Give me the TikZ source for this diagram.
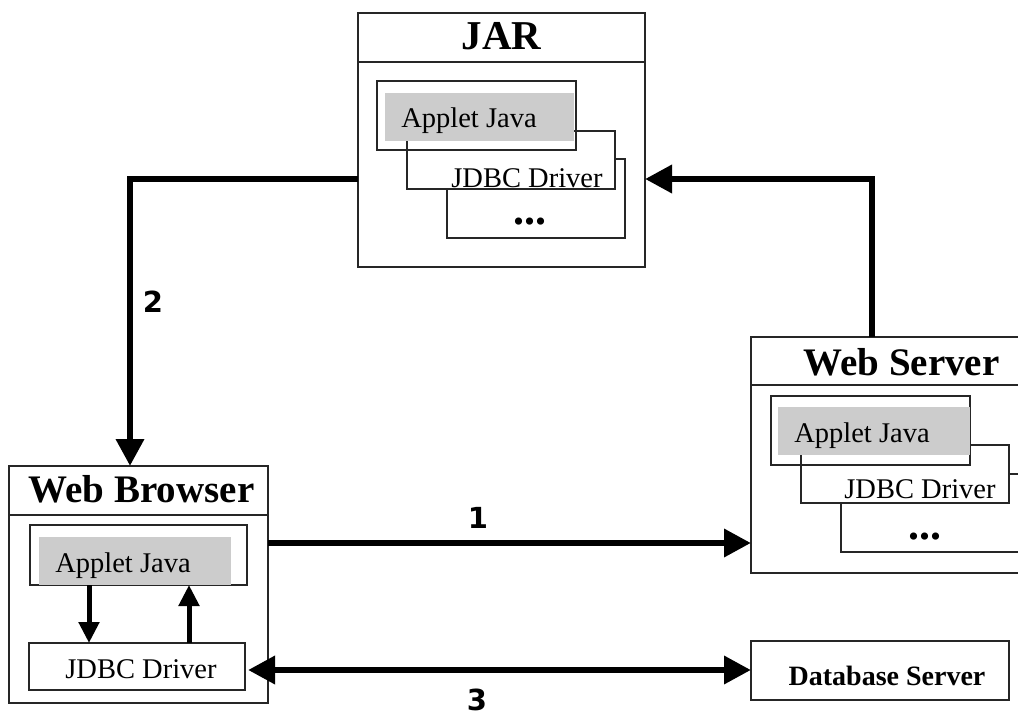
\documentclass[tikz,border=0pt]{standalone}
\usepackage{fontspec}
\setmainfont{Liberation Serif}
\newfontfamily\numfont{DejaVu Sans}
\usetikzlibrary{arrows.meta}

\begin{document}
\begin{tikzpicture}[x=1pt,y=-1pt,
  box/.style={draw=black!85, line width=1.4pt, fill=white, inner sep=0pt, outer sep=0pt},
  frame/.style={draw=black!85, line width=1.4pt, inner sep=0pt, outer sep=0pt},
  shade/.style={fill=black!20, draw=none, inner sep=0pt, outer sep=0pt},
  divider/.style={draw=black!85, line width=1.4pt},
  title/.style={font=\fontsize{39}{42}\selectfont\bfseries, inner sep=0pt, anchor=base},
  item/.style={font=\fontsize{28.5}{30}\selectfont, inner sep=0pt, anchor=base},
  dots/.style={font=\fontsize{44}{46}\selectfont\bfseries, inner sep=0pt, anchor=base},
  num/.style={font=\numfont\fontsize{29}{31}\selectfont\bfseries, inner sep=0pt, anchor=base},
  flow/.style={line width=6.5pt, -{Triangle[length=27pt,width=27pt]}},
  twoway/.style={line width=6.5pt, {Triangle[length=27pt,width=27pt]}-{Triangle[length=27pt,width=27pt]}},
  call/.style={line width=5pt, -{Triangle[length=21pt,width=20pt]}}
]
\useasboundingbox (0,0) rectangle (1018,717);
\clip (0,0) rectangle (1018,717);

% ---------- JAR ----------
\node[box, minimum width=287pt, minimum height=254pt] (jar) at (501.5,140) {};
\draw[divider] ([yshift=-49pt]jar.north west) -- ([yshift=-49pt]jar.north east);
\node[title, font=\fontsize{41}{44}\selectfont\bfseries] (jartitle) at (501.5,50) {JAR};
\node[box, minimum width=178pt, minimum height=79pt] (jmore) at (536,198.5) {};
\node[box, minimum width=208pt, minimum height=58pt] (jjdbc) at (511,160) {};
\node[frame, minimum width=199pt, minimum height=69pt] (japplet) at (476.5,115.5) {};
\node[shade, minimum width=189pt, minimum height=48pt] (jshade) at (479.5,117) {};
\node[item] (japplettxt) at (469,128) {Applet Java};
\node[item] (jjdbctxt) at (527,187) {JDBC Driver};
\node[dots] (jdots) at (530,224) {...};

% ---------- Web Server ----------
\node[box, minimum width=279pt, minimum height=236pt] (server) at (890.5,455) {};
\draw[divider] ([yshift=-48pt]server.north west) -- ([yshift=-48pt]server.north east);
\node[title] (servertitle) at (901.5,375) {Web Server};
\node[box, minimum width=189pt, minimum height=78pt] (smore) at (935.5,513) {};
\node[box, minimum width=208pt, minimum height=58pt] (sjdbc) at (905,474) {};
\node[frame, minimum width=199pt, minimum height=69pt] (sapplet) at (870.5,430.5) {};
\node[shade, minimum width=192pt, minimum height=48pt] (sshade) at (874,431) {};
\node[item] (sapplettxt) at (862,442) {Applet Java};
\node[item] (sjdbctxt) at (920,498) {JDBC Driver};
\node[dots] (sdots) at (925,539) {...};

% ---------- Web Browser ----------
\node[box, minimum width=259pt, minimum height=237pt] (browser) at (138.5,584.5) {};
\draw[divider] ([yshift=-49pt]browser.north west) -- ([yshift=-49pt]browser.north east);
\node[title] (browsertitle) at (141.5,502) {Web Browser};
\node[frame, minimum width=217pt, minimum height=60pt] (bapplet) at (138.5,555) {};
\node[shade, minimum width=192pt, minimum height=48pt] (bshade) at (135,561) {};
\node[item] (bapplettxt) at (123,572) {Applet Java};
\node[box, minimum width=216pt, minimum height=47pt] (bjdbc) at (137,666.5) {};
\node[item] (bjdbctxt) at (141,678) {JDBC Driver};

% ---------- Database Server ----------
\node[box, minimum width=258pt, minimum height=59pt] (db) at (880,670.5) {};
\node[item, font=\fontsize{28}{30}\selectfont\bfseries] (dbtxt) at (887,685) {Database Server};

% ---------- connectors ----------
\coordinate (r1) at (0,543);
\coordinate (r2) at (0,179);
\coordinate (r3) at (0,670);
\coordinate (c2) at (130,0);
\coordinate (c4) at (872,0);
\coordinate (c5) at (89,0);
\coordinate (c6) at (189,0);

\draw[flow] (browser.east |- r1) -- (server.west |- r1);
\draw[flow] (jar.west |- r2) -| (c2 |- browser.north);
\draw[flow] (c4 |- server.north) |- (jar.east |- r2);
\draw[twoway] ([xshift=3pt]bjdbc.east |- r3) -- (db.west |- r3);
\draw[call] (c5 |- bapplet.south) -- (c5 |- bjdbc.north);
\draw[call] (c6 |- bjdbc.north) -- (c6 |- bapplet.south);

\node[num] (n1) at (478,528) {1};
\node[num] (n2) at (153,312) {2};
\node[num] (n3) at (477,710) {3};
\end{tikzpicture}
\end{document}
